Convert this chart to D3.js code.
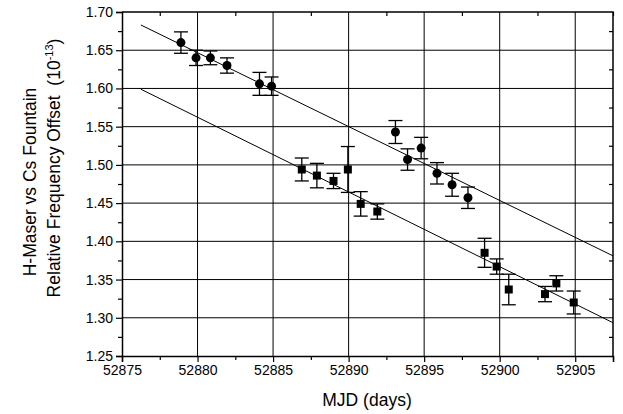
<!DOCTYPE html>
<html>
<head>
<meta charset="utf-8">
<script src="https://cdn.jsdelivr.net/npm/d3@7"></script>
<style>
  body { margin: 0; background: #fff; }
  text { font-family: "Liberation Sans", Arial, sans-serif; fill: #000; }
</style>
</head>
<body>
<div id="chart"></div>
<script>
// circles: upper series
var circleMJD = [52878.9, 52879.9, 52880.85, 52881.95, 52884.1, 52884.9, 52893.1, 52893.9, 52894.8, 52895.85, 52896.85, 52897.9];
var circleVal = [1.660, 1.640, 1.640, 1.630, 1.606, 1.603, 1.543, 1.507, 1.522, 1.489, 1.474, 1.457];
var circleErr = [0.014, 0.010, 0.009, 0.010, 0.015, 0.012, 0.015, 0.014, 0.014, 0.014, 0.015, 0.014];

// squares: lower series
var squareMJD = [52886.9, 52887.9, 52889.0, 52889.95, 52890.8, 52891.9, 52899.0, 52899.8, 52900.6, 52903.0, 52903.75, 52904.9];
var squareVal = [1.494, 1.486, 1.479, 1.494, 1.449, 1.439, 1.385, 1.367, 1.337, 1.331, 1.345, 1.320];
var squareErr = [0.015, 0.016, 0.010, 0.030, 0.016, 0.010, 0.019, 0.010, 0.020, 0.010, 0.010, 0.015];

// linear fits (start / end)
var fitMJD = [52876.25, 52907.5];
var fitUpper = [1.683, 1.381];
var fitLower = [1.599, 1.2935];

var xTicks = [52875, 52880, 52885, 52890, 52895, 52900, 52905];
var yTicks = [1.25, 1.30, 1.35, 1.40, 1.45, 1.50, 1.55, 1.60, 1.65, 1.70];

//plot frame
var chartWidth = 623, chartHeight = 414,
    plotLeft = 122, plotRight = 613, plotTop = 12, plotBottom = 356;

var x = d3.scaleLinear().domain([52875, 52907.5]).range([plotLeft, plotRight]);
var y = d3.scaleLinear().domain([1.25, 1.70]).range([plotBottom, plotTop]);

var svg = d3.select("#chart").append("svg")
    .attr("width", chartWidth)
    .attr("height", chartHeight);

// grid
svg.append("g").selectAll("line")
    .data(xTicks.slice(1))
    .enter().append("line")
    .attr("x1", function(d) { return x(d); })
    .attr("x2", function(d) { return x(d); })
    .attr("y1", plotTop).attr("y2", plotBottom)
    .attr("stroke", "#000").attr("stroke-width", 1);
svg.append("g").selectAll("line")
    .data(yTicks.slice(1, -1))
    .enter().append("line")
    .attr("x1", plotLeft).attr("x2", plotRight)
    .attr("y1", function(d) { return y(d); })
    .attr("y2", function(d) { return y(d); })
    .attr("stroke", "#000").attr("stroke-width", 1);

// minor ticks
var xMinor = xTicks.map(function(d) { return d + 2.5; });
var yMinor = yTicks.slice(0, -1).map(function(d) { return d + 0.025; });

// axes
svg.append("g")
    .attr("transform", "translate(0," + plotBottom + ")")
    .call(d3.axisBottom(x).tickValues(xTicks).tickFormat(d3.format("d")).tickSize(6).tickPadding(3));
svg.append("g")
    .attr("transform", "translate(0," + plotBottom + ")")
    .call(d3.axisBottom(x).tickValues(xMinor).tickFormat("").tickSize(4))
    .select(".domain").remove();
svg.append("g")
    .attr("transform", "translate(" + plotLeft + ",0)")
    .call(d3.axisLeft(y).tickValues(yTicks).tickFormat(d3.format(".2f")).tickSize(6).tickPadding(3));
svg.append("g")
    .attr("transform", "translate(" + plotLeft + ",0)")
    .call(d3.axisLeft(y).tickValues(yMinor).tickFormat("").tickSize(4))
    .select(".domain").remove();
// top / right minor ticks (inward)
svg.append("g")
    .attr("transform", "translate(0," + plotTop + ")")
    .call(d3.axisBottom(x).tickValues(xMinor).tickFormat("").tickSize(4))
    .select(".domain").remove();
svg.append("g")
    .attr("transform", "translate(" + plotRight + ",0)")
    .call(d3.axisLeft(y).tickValues(yMinor).tickFormat("").tickSize(4))
    .select(".domain").remove();

svg.selectAll(".domain").attr("stroke", "#000").attr("stroke-width", 1.5);
svg.selectAll(".tick line").attr("stroke", "#000").attr("stroke-width", 1.2);
svg.selectAll(".tick text").style("font-size", "14px").attr("fill", "#000");

// frame top/right
svg.append("path")
    .attr("d", "M" + plotLeft + "," + plotTop + "H" + plotRight + "V" + plotBottom)
    .attr("fill", "none").attr("stroke", "#000").attr("stroke-width", 1.5);

// fit lines
function fitLine(vals) {
    svg.append("line")
        .attr("x1", x(fitMJD[0])).attr("y1", y(vals[0]))
        .attr("x2", x(fitMJD[1])).attr("y2", y(vals[1]))
        .attr("stroke", "#000").attr("stroke-width", 1);
}
fitLine(fitUpper);
fitLine(fitLower);

// error bars
function errorBars(xs, vs, es) {
    var g = svg.append("g").attr("stroke", "#000").attr("stroke-width", 1.3);
    xs.forEach(function(d, i) {
        var cx = x(d), y1 = y(vs[i] + es[i]), y2 = y(vs[i] - es[i]);
        g.append("line").attr("x1", cx).attr("x2", cx).attr("y1", y1).attr("y2", y2);
        g.append("line").attr("x1", cx - 7).attr("x2", cx + 7).attr("y1", y1).attr("y2", y1);
        g.append("line").attr("x1", cx - 7).attr("x2", cx + 7).attr("y1", y2).attr("y2", y2);
    });
}
errorBars(circleMJD, circleVal, circleErr);
errorBars(squareMJD, squareVal, squareErr);

svg.append("g").selectAll("circle")
    .data(circleMJD)
    .enter().append("circle")
    .attr("cx", function(d) { return x(d); })
    .attr("cy", function(d, i) { return y(circleVal[i]); })
    .attr("r", 4.5)
    .attr("fill", "#000");

svg.append("g").selectAll("rect")
    .data(squareMJD)
    .enter().append("rect")
    .attr("x", function(d) { return x(d) - 4; })
    .attr("y", function(d, i) { return y(squareVal[i]) - 4; })
    .attr("width", 8).attr("height", 8)
    .attr("fill", "#000");

// axis titles
svg.append("text")
    .attr("x", 367).attr("y", 406)
    .attr("text-anchor", "middle")
    .style("font-size", "17.5px")
    .text("MJD (days)");

svg.append("text")
    .attr("transform", "translate(36,182) rotate(-90)")
    .attr("text-anchor", "middle")
    .style("font-size", "17.5px")
    .text("H-Maser vs Cs Fountain");

var t2 = svg.append("text")
    .attr("transform", "translate(60,168) rotate(-90)")
    .attr("text-anchor", "middle")
    .style("font-size", "17.5px")
    .style("white-space", "pre");
t2.append("tspan").text("Relative Frequency Offset  (10");
t2.append("tspan").attr("dy", -7).style("font-size", "11px").text("-13");
t2.append("tspan").attr("dy", 7).text(")");
</script>
</body>
</html>
